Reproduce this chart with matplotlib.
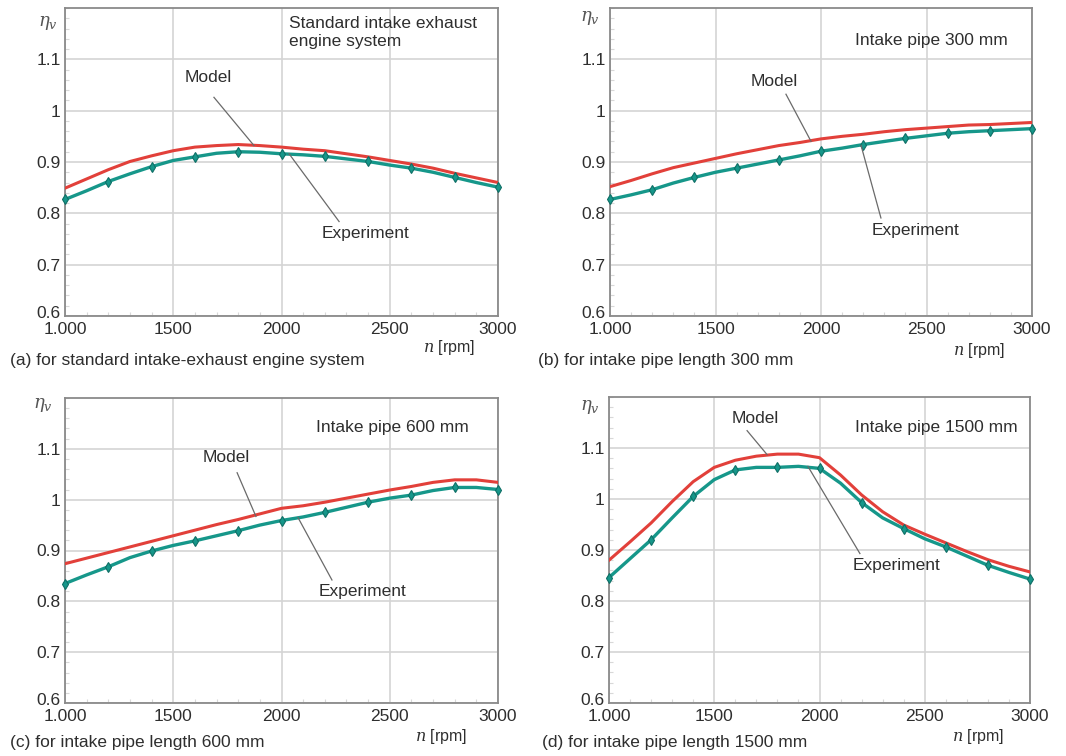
import matplotlib
matplotlib.use("Agg")
import matplotlib.pyplot as plt
from matplotlib.ticker import MultipleLocator
from matplotlib.transforms import ScaledTranslation

plt.rcParams['font.family'] = ['Liberation Sans', 'DejaVu Sans']
plt.rcParams['mathtext.fontset'] = 'dejavuserif'

rpm = [1000, 1100, 1200, 1300, 1400, 1500, 1600, 1700, 1800, 1900, 2000,
       2100, 2200, 2300, 2400, 2500, 2600, 2700, 2800, 2900, 3000]

# (a) standard intake-exhaust system
a_exp = [0.827, 0.844, 0.862, 0.877, 0.891, 0.903, 0.910, 0.917, 0.920, 0.919, 0.916,
         0.914, 0.911, 0.906, 0.901, 0.894, 0.888, 0.880, 0.870, 0.860, 0.851]
a_mod = [0.849, 0.867, 0.885, 0.901, 0.912, 0.922, 0.929, 0.932, 0.934, 0.932, 0.929,
         0.925, 0.922, 0.916, 0.910, 0.903, 0.896, 0.888, 0.878, 0.869, 0.860]
# (b) intake pipe 300 mm
b_exp = [0.827, 0.836, 0.846, 0.859, 0.870, 0.880, 0.888, 0.896, 0.904, 0.912, 0.921,
         0.927, 0.934, 0.940, 0.946, 0.951, 0.956, 0.959, 0.961, 0.963, 0.965]
b_mod = [0.852, 0.864, 0.877, 0.889, 0.898, 0.907, 0.916, 0.924, 0.932, 0.938, 0.945,
         0.950, 0.954, 0.959, 0.963, 0.966, 0.969, 0.972, 0.973, 0.975, 0.977]
# (c) intake pipe 600 mm
c_exp = [0.835, 0.852, 0.868, 0.886, 0.899, 0.910, 0.919, 0.929, 0.939, 0.950, 0.959,
         0.966, 0.975, 0.985, 0.995, 1.003, 1.009, 1.018, 1.024, 1.024, 1.020]
c_mod = [0.874, 0.885, 0.896, 0.907, 0.918, 0.929, 0.940, 0.951, 0.961, 0.972, 0.983,
         0.988, 0.995, 1.003, 1.011, 1.019, 1.026, 1.034, 1.039, 1.039, 1.034]
# (d) intake pipe 1500 mm
d_exp = [0.846, 0.883, 0.920, 0.963, 1.005, 1.038, 1.057, 1.062, 1.062, 1.064, 1.060,
         1.031, 0.993, 0.963, 0.942, 0.922, 0.906, 0.888, 0.870, 0.856, 0.843]
d_mod = [0.880, 0.916, 0.953, 0.995, 1.034, 1.062, 1.076, 1.084, 1.088, 1.088, 1.081,
         1.047, 1.008, 0.975, 0.949, 0.931, 0.914, 0.897, 0.881, 0.868, 0.857]

x_ticks = [1000, 1500, 2000, 2500, 3000]
x_labels = ["1.000", "1500", "2000", "2500", "3000"]
y_ticks = [0.6, 0.7, 0.8, 0.9, 1.0, 1.1]
y_labels = ["0.6", "0.7", "0.8", "0.9", "1", "1.1"]

titles = ["Standard intake exhaust\nengine system", "Intake pipe 300 mm",
          "Intake pipe 600 mm", "Intake pipe 1500 mm"]
captions = ["(a) for standard intake-exhaust engine system",
            "(b) for intake pipe length 300 mm",
            "(c) for intake pipe length 600 mm",
            "(d) for intake pipe length 1500 mm"]

W, H = 1066, 756
fig = plt.figure(figsize=(W / 100, H / 100), dpi=100)

RED = '#e2403a'
TEAL = '#16978a'
TXT = '#2e2e2e'

panels = [
    dict(rect=(65, 8, 498, 316), exp=a_exp, mod=a_mod, title=(0.517, 0.975),
         mtxt=(1554, 1.065), mlead=((1688, 1.026), (1873, 0.932)),
         etxt=(2187, 0.760), elead=((2266, 0.784), (2035, 0.916)),
         eta=(38, 23), n=(423, 348), cap=(10, 361)),
    dict(rect=(610, 8, 1032, 316), exp=b_exp, mod=b_mod, title=(0.581, 0.893),
         mtxt=(1668, 1.057), mlead=((1834, 1.032), (1953, 0.940)),
         etxt=(2242, 0.766), elead=((2284, 0.791), (2190, 0.932)),
         eta=(580, 18), n=(953, 350), cap=(538, 361)),
    dict(rect=(65, 398, 498, 703), exp=c_exp, mod=c_mod, title=(0.580, 0.902),
         mtxt=(1637, 1.082), mlead=((1795, 1.053), (1882, 0.967)),
         etxt=(2173, 0.820), elead=((2233, 0.842), (2076, 0.965)),
         eta=(33, 405), n=(415, 737), cap=(10, 742)),
    dict(rect=(609, 397, 1030, 703), exp=d_exp, mod=d_mod, title=(0.584, 0.899),
         mtxt=(1584, 1.157), mlead=((1656, 1.134), (1751, 1.087)),
         etxt=(2159, 0.869), elead=((2192, 0.893), (1945, 1.064)),
         eta=(580, 407), n=(952, 737), cap=(542, 742)),
]

for i, p in enumerate(panels):
    l, t, r, b = p['rect']
    ax = fig.add_axes([l / W, 1 - b / H, (r - l) / W, (b - t) / H])
    ax.set_xlim(1000, 3000)
    ax.set_ylim(0.6, 1.2)
    ax.set_xticks(x_ticks)
    ax.set_xticklabels(x_labels)
    ax.set_yticks(y_ticks)
    ax.set_yticklabels(y_labels)
    ax.xaxis.set_minor_locator(MultipleLocator(100))
    ax.yaxis.set_minor_locator(MultipleLocator(0.02))
    ax.tick_params(axis='x', which='major', length=0, labelsize=12.5,
                   labelcolor=TXT, pad=4)
    ax.tick_params(axis='y', which='major', length=0, labelsize=12.5,
                   labelcolor=TXT, pad=3)
    ax.tick_params(axis='both', which='minor', direction='in', length=3,
                   color='#d8d8d8', width=0.8)
    # lift the bottom "0.6" label slightly, as in the reference
    lab0 = ax.get_yticklabels()[0]
    lab0.set_transform(lab0.get_transform() +
                       ScaledTranslation(0, 3 / 72, fig.dpi_scale_trans))
    ax.grid(True, which='major', color='#d4d4d4', linewidth=1.2)
    ax.set_axisbelow(True)
    for s in ax.spines.values():
        s.set_color('#8a8a8a')
        s.set_linewidth(1.3)

    ax.plot(rpm, p['mod'], color=RED, linewidth=2.2, zorder=3,
            solid_joinstyle='round')
    ax.plot(rpm, p['exp'], color=TEAL, linewidth=2.4, marker='d',
            markevery=2, markersize=5, markerfacecolor=TEAL,
            markeredgecolor='#0f6f66', markeredgewidth=0.8, zorder=4,
            clip_on=False, solid_joinstyle='round')

    ax.text(p['title'][0], p['title'][1], titles[i], transform=ax.transAxes,
            ha='left', va='top' if i == 0 else 'center', fontsize=12.5,
            color=TXT, linespacing=1.25)

    ax.text(p['mtxt'][0], p['mtxt'][1], "Model", ha='left', va='center',
            fontsize=12.5, color=TXT)
    ax.plot([p['mlead'][0][0], p['mlead'][1][0]],
            [p['mlead'][0][1], p['mlead'][1][1]], color='#6a6a6a',
            linewidth=0.9, zorder=5)
    ax.text(p['etxt'][0], p['etxt'][1], "Experiment", ha='left', va='center',
            fontsize=12.5, color=TXT)
    ax.plot([p['elead'][0][0], p['elead'][1][0]],
            [p['elead'][0][1], p['elead'][1][1]], color='#6a6a6a',
            linewidth=0.9, zorder=5)

    fig.text(p['eta'][0] / W, 1 - p['eta'][1] / H, r'$\eta_v$', ha='left',
             va='center', fontsize=13, color='#555555')
    fig.text(p['n'][0] / W, 1 - p['n'][1] / H, r'$n$ [rpm]', ha='left',
             va='center', fontsize=11.5, color=TXT)
    fig.text(p['cap'][0] / W, 1 - p['cap'][1] / H, captions[i], ha='left',
             va='center', fontsize=12.5, color=TXT)

fig.savefig('out.png', dpi=100)
